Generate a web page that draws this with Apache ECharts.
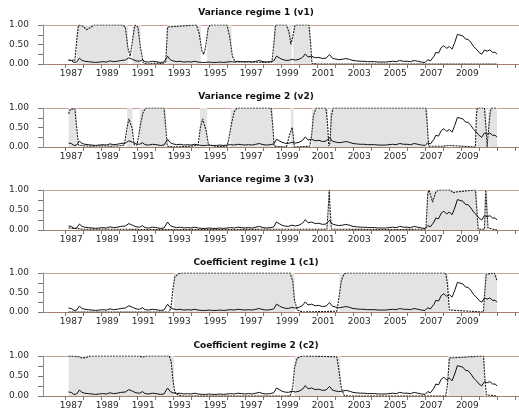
<!DOCTYPE html>
<html><head><meta charset="utf-8">
<script src="https://cdn.jsdelivr.net/npm/echarts@6/dist/echarts.min.js"></script>
<style>html,body{margin:0;padding:0;background:#fff}#c{width:519px;height:415px}</style>
</head><body><div id="c"></div>
<script>
const titles = ['Variance regime 1 (v1)','Variance regime 2 (v2)','Variance regime 3 (v3)','Coefficient regime 1 (c1)','Coefficient regime 2 (c2)'];
const yearLabels = [1987,1989,1991,1993,1995,1997,1999,2001,2003,2005,2007,2009];
const tickYears = [1987,1988,1989,1990,1991,1992,1993,1994,1995,1996,1997,1998,1999,2000,2001,2002,2003,2004,2005,2006,2007,2008,2009,2010,2011,2012];
const yTicks = [0,0.25,0.5,0.75,1];
const yLabels = [0,0.5,1];

// solid line (same in every panel)
const stress = [[1987.2,0.10],[1987.35,0.09],[1987.5,0.04],[1987.65,0.05],[1987.8,0.15],[1987.95,0.09],[1988.1,0.07],[1988.3,0.06],[1988.5,0.05],[1988.7,0.04],[1988.9,0.05],[1989.1,0.06],[1989.3,0.05],[1989.5,0.08],[1989.7,0.06],[1989.9,0.07],[1990.1,0.09],[1990.35,0.10],[1990.55,0.16],[1990.75,0.12],[1990.95,0.08],[1991.15,0.07],[1991.3,0.11],[1991.45,0.06],[1991.65,0.05],[1991.85,0.07],[1992.05,0.06],[1992.3,0.04],[1992.5,0.05],[1992.7,0.20],[1992.85,0.11],[1993.0,0.08],[1993.2,0.06],[1993.4,0.07],[1993.6,0.05],[1993.8,0.06],[1994.0,0.05],[1994.2,0.07],[1994.4,0.05],[1994.6,0.04],[1994.8,0.04],[1995.0,0.05],[1995.2,0.04],[1995.4,0.04],[1995.6,0.05],[1995.8,0.04],[1996.0,0.05],[1996.2,0.06],[1996.4,0.05],[1996.6,0.07],[1996.8,0.06],[1997.0,0.05],[1997.2,0.06],[1997.4,0.05],[1997.6,0.07],[1997.8,0.09],[1998.0,0.06],[1998.2,0.05],[1998.4,0.06],[1998.6,0.08],[1998.75,0.20],[1998.9,0.16],[1999.05,0.12],[1999.2,0.10],[1999.4,0.09],[1999.6,0.12],[1999.8,0.10],[2000.0,0.12],[2000.2,0.17],[2000.35,0.26],[2000.5,0.18],[2000.7,0.20],[2000.9,0.16],[2001.1,0.17],[2001.3,0.14],[2001.5,0.15],[2001.7,0.24],[2001.85,0.15],[2002.0,0.13],[2002.2,0.11],[2002.4,0.12],[2002.6,0.14],[2002.8,0.12],[2003.0,0.09],[2003.2,0.08],[2003.4,0.07],[2003.6,0.07],[2003.8,0.06],[2004.0,0.06],[2004.2,0.06],[2004.4,0.05],[2004.6,0.05],[2004.8,0.05],[2005.0,0.06],[2005.2,0.07],[2005.4,0.06],[2005.6,0.09],[2005.8,0.07],[2006.0,0.07],[2006.2,0.06],[2006.4,0.09],[2006.6,0.07],[2006.8,0.05],[2007.0,0.04],[2007.15,0.11],[2007.3,0.08],[2007.5,0.20],[2007.6,0.30],[2007.75,0.28],[2007.9,0.42],[2008.05,0.47],[2008.2,0.40],[2008.35,0.45],[2008.5,0.38],[2008.65,0.55],[2008.8,0.76],[2008.95,0.74],[2009.1,0.72],[2009.25,0.64],[2009.4,0.63],[2009.55,0.55],[2009.7,0.45],[2009.85,0.38],[2010.0,0.30],[2010.15,0.25],[2010.3,0.36],[2010.45,0.33],[2010.6,0.36],[2010.75,0.30],[2010.9,0.30],[2011.0,0.25]];

const v1 = [[1987.2,0.1],[1987.55,0.09],[1987.65,0.6],[1987.75,1.0],[1988.0,0.97],[1988.2,0.88],[1988.4,0.93],[1988.6,1.0],[1990.2,1.0],[1990.35,0.95],[1990.5,0.4],[1990.62,0.2],[1990.75,0.6],[1990.88,1.0],[1991.05,0.95],[1991.2,0.4],[1991.35,0.03],[1991.6,0.0],[1992.0,0.02],[1992.4,0.01],[1992.6,0.05],[1992.7,0.95],[1992.8,1.0],[1994.3,1.0],[1994.45,0.8],[1994.6,0.35],[1994.7,0.25],[1994.8,0.4],[1994.95,0.9],[1995.05,1.0],[1996.0,1.0],[1996.15,0.7],[1996.3,0.2],[1996.45,0.05],[1997.0,0.06],[1997.5,0.05],[1998.0,0.04],[1998.5,0.05],[1998.6,0.5],[1998.7,1.0],[1999.3,1.0],[1999.45,0.8],[1999.55,0.5],[1999.6,0.45],[1999.7,0.8],[1999.78,1.0],[2000.55,1.0],[2000.65,0.5],[2000.72,0.02],[2001.0,0.0],[2011.0,0.0]];
const v1Bands = [[1987.65,1990.5],[1990.75,1991.2],[1992.65,1994.55],[1994.9,1996.25],[1998.6,1999.6],[1999.68,2000.65]];

const v2 = [[1987.2,0.85],[1987.3,0.97],[1987.4,1.0],[1987.55,0.98],[1987.65,0.5],[1987.75,0.05],[1988.0,0.03],[1988.5,0.02],[1989.0,0.03],[1989.5,0.02],[1990.0,0.03],[1990.3,0.05],[1990.45,0.5],[1990.55,0.72],[1990.62,0.75],[1990.72,0.5],[1990.85,0.05],[1991.0,0.05],[1991.1,0.3],[1991.2,0.6],[1991.35,0.9],[1991.5,1.0],[1992.5,1.0],[1992.6,0.5],[1992.68,0.02],[1993.0,0.0],[1994.0,0.02],[1994.4,0.05],[1994.52,0.5],[1994.65,0.72],[1994.75,0.7],[1994.85,0.4],[1994.97,0.05],[1995.5,0.01],[1996.0,0.02],[1996.1,0.2],[1996.25,0.6],[1996.4,0.9],[1996.55,1.0],[1998.45,1.0],[1998.55,0.5],[1998.62,0.02],[1999.3,0.0],[1999.5,0.35],[1999.62,0.5],[1999.7,0.2],[1999.75,0.0],[2000.6,0.02],[2000.7,0.3],[2000.8,0.8],[2000.95,1.0],[2001.5,1.0],[2001.6,0.5],[2001.65,0.02],[2001.72,0.1],[2001.8,0.8],[2001.9,1.0],[2007.05,1.0],[2007.12,0.6],[2007.2,0.02],[2008.0,0.02],[2008.35,0.04],[2008.45,0.02],[2009.8,0.0],[2009.85,0.8],[2009.9,1.0],[2010.3,1.0],[2010.4,0.4],[2010.45,0.0],[2010.5,0.3],[2010.62,0.9],[2010.7,1.0],[2011.0,1.0]];
const v2Bands = [[1987.2,1987.65],[1990.45,1990.75],[1991.15,1992.6],[1994.5,1994.9],[1996.2,1998.55],[1999.55,1999.7],[2000.72,2001.6],[2001.72,2007.15],[2009.85,2010.42],[2010.52,2011.0]];

const v3 = [[1987.2,0.05],[1988.0,0.02],[1990.0,0.02],[1992.0,0.01],[1995.0,0.01],[1999.0,0.02],[2001.55,0.02],[2001.62,0.5],[2001.68,1.0],[2001.73,0.5],[2001.8,0.02],[2005.0,0.01],[2007.05,0.02],[2007.15,0.9],[2007.22,1.0],[2007.32,0.85],[2007.42,0.7],[2007.5,0.75],[2007.6,0.95],[2007.75,1.0],[2008.4,1.0],[2008.55,0.93],[2008.7,0.95],[2008.8,1.0],[2009.8,1.0],[2009.88,0.5],[2009.95,0.02],[2010.3,0.02],[2010.37,1.0],[2010.43,1.0],[2010.5,0.05],[2011.0,0.0]];
const v3Bands = [[2001.65,2001.72],[2007.1,2009.9],[2010.35,2010.47]];

const c1 = [[1987.2,0.0],[1992.8,0.0],[1992.9,0.15],[1993.0,0.6],[1993.1,0.9],[1993.3,0.98],[1993.5,1.0],[1999.5,1.0],[1999.65,0.8],[1999.75,0.3],[1999.9,0.05],[2000.2,0.0],[2002.1,0.02],[2002.2,0.3],[2002.35,0.8],[2002.5,0.98],[2002.7,1.0],[2008.15,1.0],[2008.25,0.7],[2008.35,0.05],[2008.45,0.0],[2010.25,0.0],[2010.3,0.4],[2010.4,0.97],[2010.5,1.0],[2010.85,1.0],[2011.0,0.8]];
const c1Bands = [[1993.05,1999.75],[2002.25,2008.3],[2010.3,2011.0]];

const c2 = [[1987.2,1.0],[1987.7,0.99],[1987.95,0.95],[1988.15,0.96],[1988.4,1.0],[1991.1,1.0],[1991.3,0.97],[1991.5,1.0],[1992.8,1.0],[1992.9,0.85],[1993.0,0.4],[1993.1,0.1],[1993.3,0.02],[1993.5,0.0],[1999.5,0.0],[1999.65,0.2],[1999.75,0.7],[1999.9,0.95],[2000.2,1.0],[2002.1,0.98],[2002.2,0.7],[2002.35,0.2],[2002.5,0.02],[2002.7,0.0],[2008.15,0.0],[2008.25,0.3],[2008.35,0.95],[2008.45,1.0],[2010.25,1.0],[2010.3,0.6],[2010.4,0.03],[2010.5,0.0],[2011.0,0.0]];
const c2Bands = [[1987.2,1993.05],[1999.75,2002.3],[2008.3,2010.3]];

const probs = [v1, v2, v3, c1, c2];
const bands = [v1Bands, v2Bands, v3Bands, c1Bands, c2Bands];

// layout
const tops = [25, 108, 190, 273, 356];
const heights = [39, 39, 40, 39, 40];
const titleTops = [8, 92, 175, 258, 341];
const XMIN = 1985.78, XMAX = 2012.22;
const LABEL_SHIFT = 0.35;
const axisBrown = '#a8806c', topBrown = '#c8a08c', txt = '#2a2a2a';
const font = 'DejaVu Sans';

const grid = [], xAxis = [], yAxis = [], series = [], title = [];
for (let i = 0; i < 5; i++) {
  grid.push({left: 43, right: 0, top: tops[i], height: heights[i]});
  title.push({text: titles[i], left: 256, top: titleTops[i], textAlign: 'center', padding: 0,
    textStyle: {fontFamily: font, fontSize: 9, fontWeight: 'bold', color: '#111'}});
  xAxis.push({type: 'value', gridIndex: i, min: XMIN, max: XMAX,
    axisLine: {show: true, lineStyle: {color: axisBrown, width: 1}},
    axisTick: {show: true, customValues: tickYears, length: 4, lineStyle: {color: '#777'}},
    axisLabel: {customValues: yearLabels.map(y => y + LABEL_SHIFT), formatter: v => String(Math.floor(v)),
      fontFamily: font, fontSize: 9, color: txt, margin: 5},
    splitLine: {show: false}});
  xAxis.push({type: 'value', gridIndex: i, min: XMIN, max: XMAX, position: 'top',
    axisLine: {show: true, lineStyle: {color: topBrown, width: 1}},
    axisTick: {show: false}, axisLabel: {show: false}, splitLine: {show: false}});
  yAxis.push({type: 'value', gridIndex: i, min: 0, max: 1,
    axisLine: {show: true, lineStyle: {color: '#9a8a84'}},
    axisTick: {show: true, customValues: yTicks, length: 5, lineStyle: {color: '#777'}},
    axisLabel: {customValues: yLabels, formatter: v => v.toFixed(2), fontFamily: font, fontSize: 9, color: txt, margin: 14},
    splitLine: {show: false}});
  series.push({type: 'line', xAxisIndex: 2 * i, yAxisIndex: i, data: [], z: 1, silent: true,
    markArea: {silent: true, itemStyle: {color: '#e3e3e3'},
      data: bands[i].map(b => [{xAxis: b[0]}, {xAxis: b[1]}])}});
  series.push({type: 'line', xAxisIndex: 2 * i, yAxisIndex: i, data: probs[i], showSymbol: false, z: 3,
    lineStyle: {color: '#1a1a1a', width: 1.1, type: [2, 1]}});
  series.push({type: 'line', xAxisIndex: 2 * i, yAxisIndex: i, data: stress, showSymbol: false, z: 4,
    lineStyle: {color: '#111', width: 1}});
}
const chart = echarts.init(document.getElementById('c'), null, {renderer: 'canvas'});
chart.setOption({animation: false, backgroundColor: '#fff', title, grid, xAxis, yAxis, series});
</script></body></html>
